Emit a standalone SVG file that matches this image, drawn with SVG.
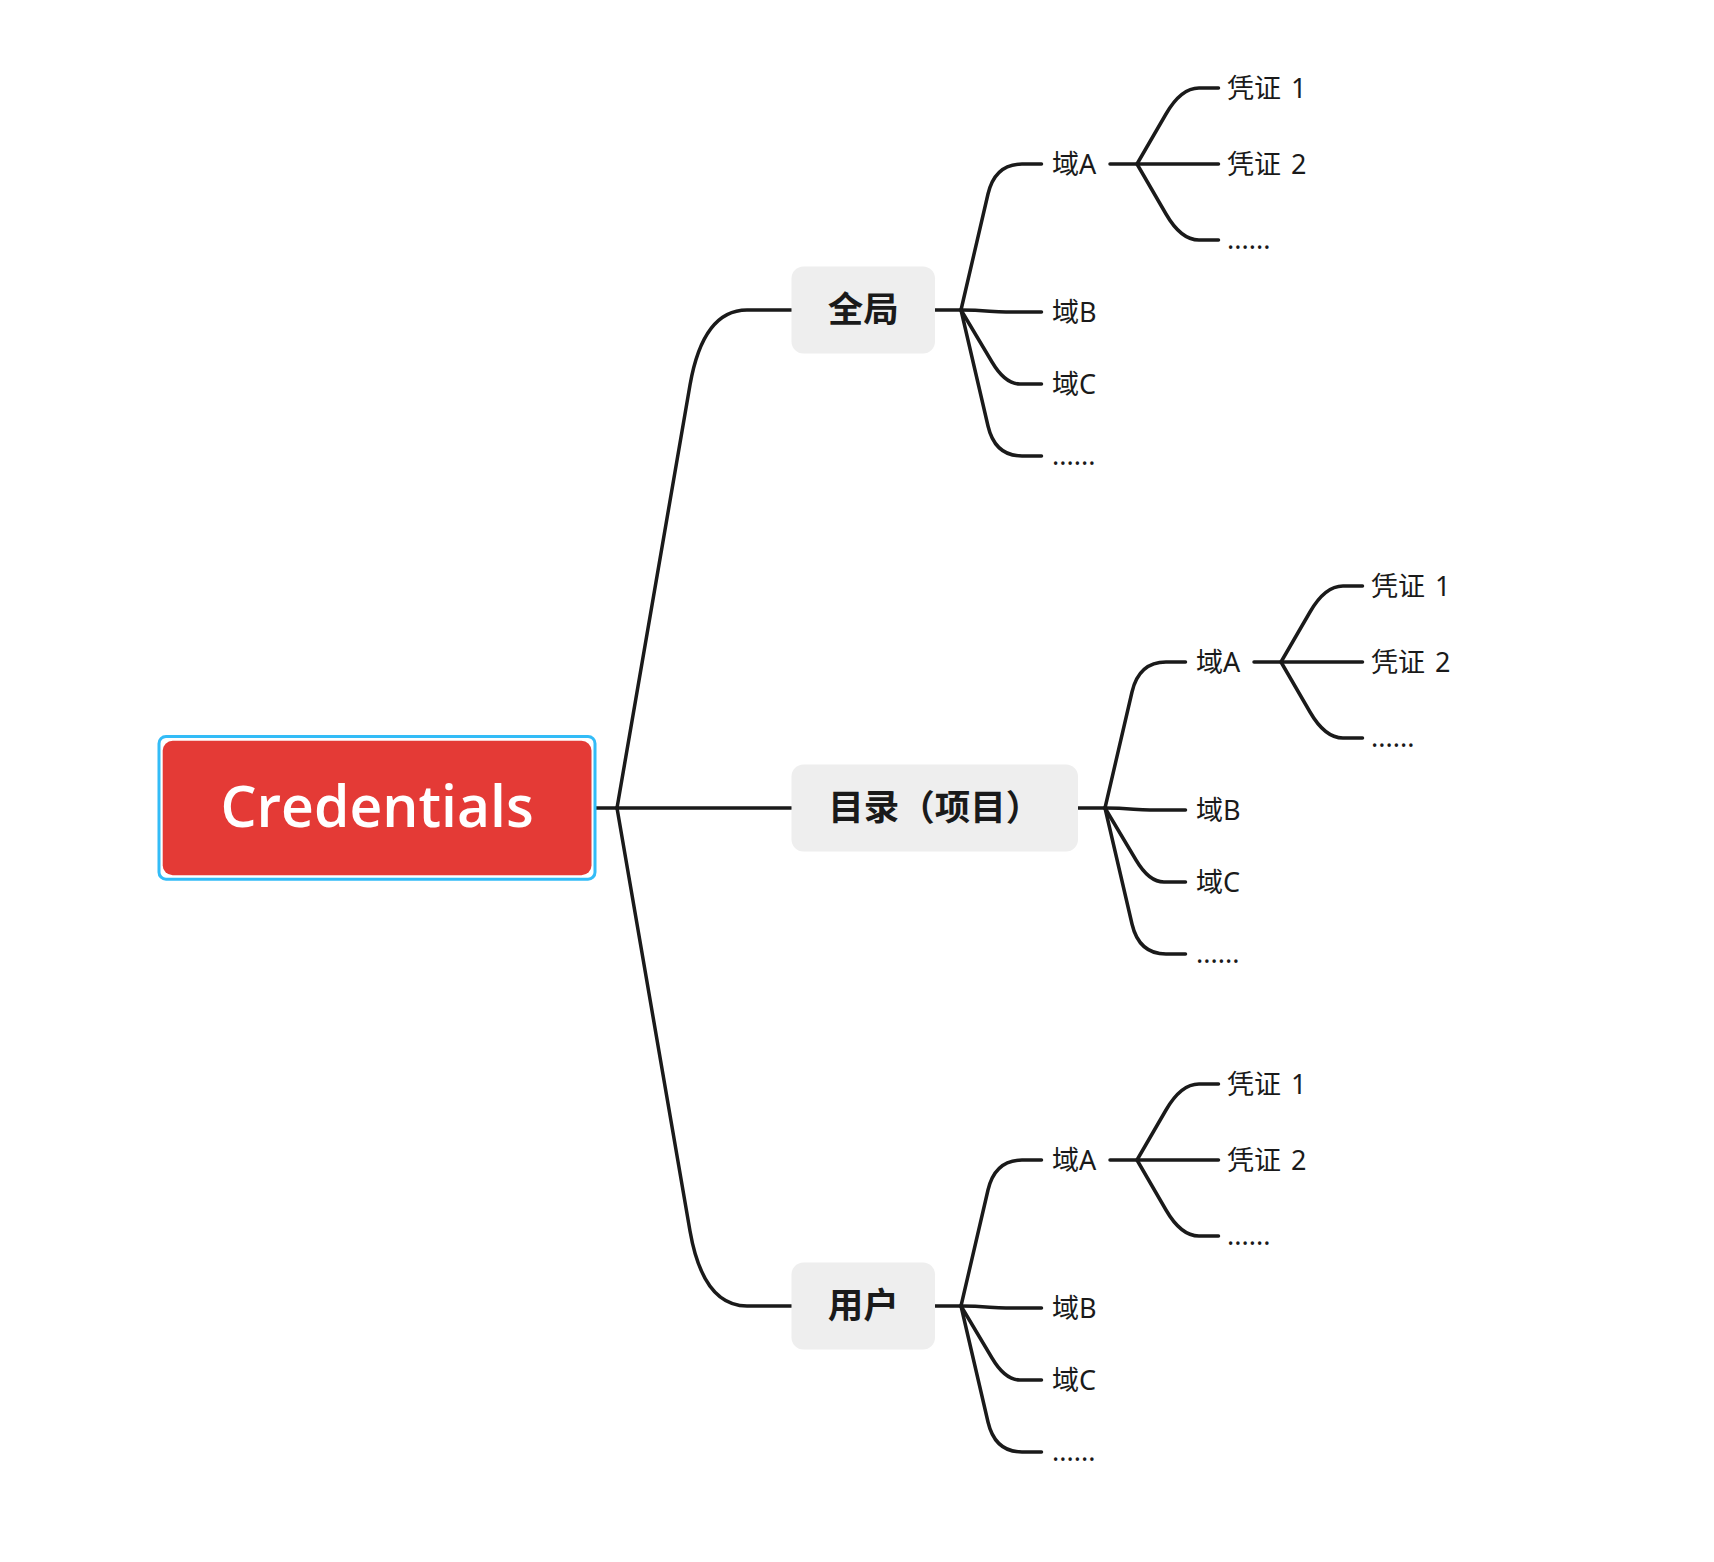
<svg xmlns="http://www.w3.org/2000/svg" width="1714" height="1562" viewBox="0 0 1714 1562">
<style>
.ln{fill:none;stroke:#1a1a1a;stroke-width:3.5;stroke-linecap:round;stroke-linejoin:round}
.box{fill:#eeeeee}
.nt{font-family:"Noto Sans CJK SC","Noto Sans",sans-serif;font-weight:700;font-size:35.5px;fill:#1a1a1a;text-anchor:middle}
.lb{font-family:"Noto Sans","Noto Sans CJK SC",sans-serif;font-size:27px;fill:#1a1a1a}
.rt{font-family:"Open Sans","Noto Sans",sans-serif;font-weight:600;font-size:57px;fill:#ffffff;text-anchor:middle}
</style>
<rect width="1714" height="1562" fill="#ffffff"/>
<g id="connectors">
<path class="ln" d="M592,808 L617,808"/>
<path class="ln" d="M617,808 L791.5,808"/>
<path class="ln" d="M617,808 L690,385 C697,345 712,310 747,310 L791.5,310"/>
<path class="ln" d="M617,808 L690,1231 C697,1271 712,1306 747,1306 L791.5,1306"/>
<path class="ln" d="M935,310 L961,310"/>
<path class="ln" d="M961,310 L988,194 Q995,164 1022,164 L1041.5,164"/>
<path class="ln" d="M961,310 C986,310 991,312 1006,312 L1041.5,312"/>
<path class="ln" d="M961,310 L992,362 Q1005,384 1020,384 L1041.5,384"/>
<path class="ln" d="M961,310 L988,426 Q995,456 1022,456 L1041.5,456"/>
<path class="ln" d="M1110,164 L1218.5,164"/>
<path class="ln" d="M1137,164 L1166,114 Q1181,88 1199,88 L1218.5,88"/>
<path class="ln" d="M1137,164 L1166,214 Q1181,240 1199,240 L1218.5,240"/>
<path class="ln" d="M1078,808 L1105,808"/>
<path class="ln" d="M1105,808 L1132,692 Q1139,662 1166,662 L1185.5,662"/>
<path class="ln" d="M1105,808 C1130,808 1135,810 1150,810 L1185.5,810"/>
<path class="ln" d="M1105,808 L1136,860 Q1149,882 1164,882 L1185.5,882"/>
<path class="ln" d="M1105,808 L1132,924 Q1139,954 1166,954 L1185.5,954"/>
<path class="ln" d="M1254,662 L1362.5,662"/>
<path class="ln" d="M1281,662 L1310,612 Q1325,586 1343,586 L1362.5,586"/>
<path class="ln" d="M1281,662 L1310,712 Q1325,738 1343,738 L1362.5,738"/>
<path class="ln" d="M935,1306 L961,1306"/>
<path class="ln" d="M961,1306 L988,1190 Q995,1160 1022,1160 L1041.5,1160"/>
<path class="ln" d="M961,1306 C986,1306 991,1308 1006,1308 L1041.5,1308"/>
<path class="ln" d="M961,1306 L992,1358 Q1005,1380 1020,1380 L1041.5,1380"/>
<path class="ln" d="M961,1306 L988,1422 Q995,1452 1022,1452 L1041.5,1452"/>
<path class="ln" d="M1110,1160 L1218.5,1160"/>
<path class="ln" d="M1137,1160 L1166,1110 Q1181,1084 1199,1084 L1218.5,1084"/>
<path class="ln" d="M1137,1160 L1166,1210 Q1181,1236 1199,1236 L1218.5,1236"/>
</g>
<g id="root">
<rect x="159" y="736.5" width="436" height="142.7" rx="7" fill="#ffffff" stroke="#33bcf7" stroke-width="3"/>
<rect x="162.7" y="740.7" width="428.8" height="134.6" rx="10" fill="#e43a36"/>
<text class="rt" x="377" y="827">Credentials</text>
</g>
<g id="global">
<rect class="box" x="791.5" y="266.5" width="143.5" height="87" rx="12"/>
<text class="nt" x="863.3" y="321.5">全局</text>
</g>
<g id="catalog">
<rect class="box" x="791.5" y="764.5" width="286.5" height="87" rx="12"/>
<text class="nt" x="934.8" y="819.5">目录（项目）</text>
</g>
<g id="user">
<rect class="box" x="791.5" y="1262.5" width="143.5" height="87" rx="12"/>
<text class="nt" x="863.3" y="1317.5">用户</text>
</g>
<g id="g-domainA"><text class="lb" x="1052" y="173.5">域A</text></g>
<g id="g-domainB"><text class="lb" x="1052" y="321.5">域B</text></g>
<g id="g-domainC"><text class="lb" x="1052" y="393.5">域C</text></g>
<g id="g-more"><text class="lb" x="1052" y="465">......</text></g>
<g id="g-cred1"><text class="lb" x="1227" y="97.5">凭证 <tspan dx="3">1</tspan></text></g>
<g id="g-cred2"><text class="lb" x="1227" y="173.5">凭证 <tspan dx="3">2</tspan></text></g>
<g id="g-credmore"><text class="lb" x="1227" y="249">......</text></g>
<g id="c-domainA"><text class="lb" x="1196" y="671.5">域A</text></g>
<g id="c-domainB"><text class="lb" x="1196" y="819.5">域B</text></g>
<g id="c-domainC"><text class="lb" x="1196" y="891.5">域C</text></g>
<g id="c-more"><text class="lb" x="1196" y="963">......</text></g>
<g id="c-cred1"><text class="lb" x="1371" y="595.5">凭证 <tspan dx="3">1</tspan></text></g>
<g id="c-cred2"><text class="lb" x="1371" y="671.5">凭证 <tspan dx="3">2</tspan></text></g>
<g id="c-credmore"><text class="lb" x="1371" y="747">......</text></g>
<g id="u-domainA"><text class="lb" x="1052" y="1169.5">域A</text></g>
<g id="u-domainB"><text class="lb" x="1052" y="1317.5">域B</text></g>
<g id="u-domainC"><text class="lb" x="1052" y="1389.5">域C</text></g>
<g id="u-more"><text class="lb" x="1052" y="1461">......</text></g>
<g id="u-cred1"><text class="lb" x="1227" y="1093.5">凭证 <tspan dx="3">1</tspan></text></g>
<g id="u-cred2"><text class="lb" x="1227" y="1169.5">凭证 <tspan dx="3">2</tspan></text></g>
<g id="u-credmore"><text class="lb" x="1227" y="1245">......</text></g>
</svg>
